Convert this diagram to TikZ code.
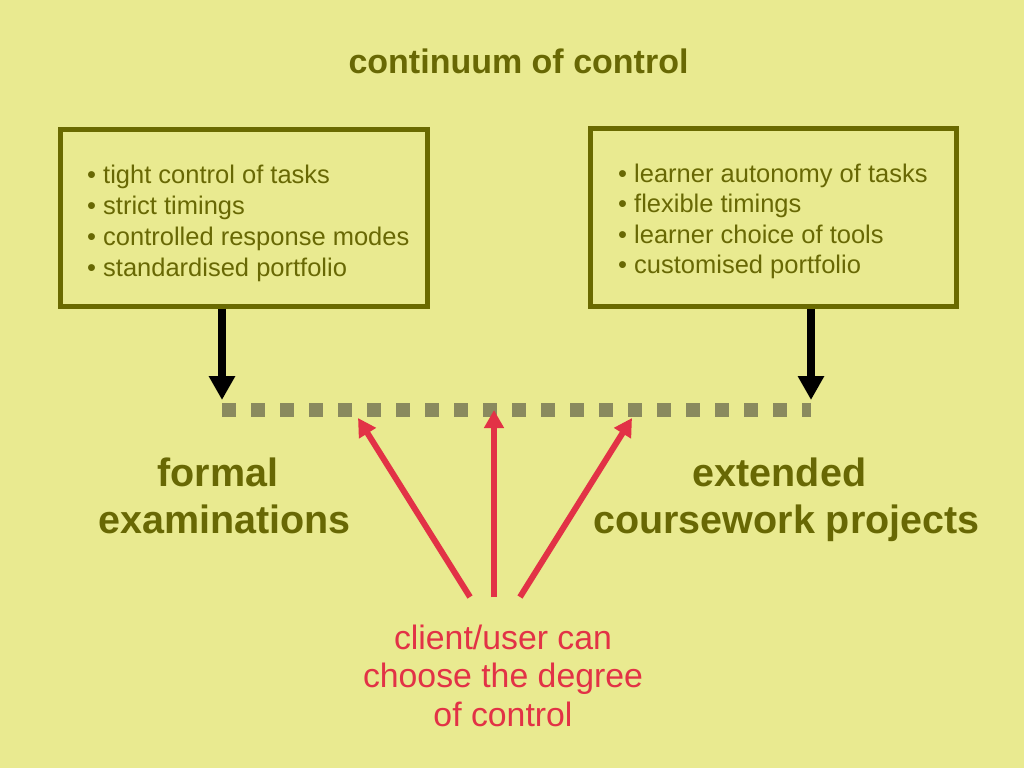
\documentclass[tikz,border=0pt]{standalone}
\usepackage{fontspec}
\setmainfont{Liberation Sans}
\usetikzlibrary{arrows.meta}
\definecolor{bg}{RGB}{233,234,144}
\definecolor{olive}{RGB}{104,104,4}
\definecolor{boxline}{RGB}{106,106,0}
\definecolor{dotcol}{RGB}{138,138,94}
\definecolor{redc}{RGB}{226,50,70}
\begin{document}
\begin{tikzpicture}[x=1pt,y=-1pt,
  title/.style={anchor=base,inner sep=0pt,text=olive,font=\bfseries\fontsize{34}{40}\selectfont},
  biglabel/.style={anchor=base,inner sep=0pt,text=olive,font=\bfseries\fontsize{39.5}{48}\selectfont},
  bullet/.style={anchor=base west,inner sep=0pt,text=olive,font=\fontsize{25.5}{31}\selectfont},
  redtext/.style={anchor=base,inner sep=0pt,text=redc,font=\fontsize{33.8}{38}\selectfont},
  listbox/.style={draw=boxline,line width=5pt,inner sep=0pt},
  blackarrow/.style={line width=8.5pt,-{Triangle[width=25pt,length=24pt]}},
  redarrow/.style={redc,line width=6pt,-{Triangle[width=19pt,length=18pt]}},
  scale line/.style={dotcol,line width=14pt,dash pattern=on 14pt off 15pt}
]
\fill[bg] (0,0) rectangle (1024,768);
\useasboundingbox (0,0) rectangle (1024,768);

\node[title] (title) at (518.5,73) {continuum of control};

% boxes
\node[listbox,minimum width=367pt,minimum height=177pt] (boxL) at (243.5,217.5) {};
\node[listbox,minimum width=366pt,minimum height=178pt] (boxR) at (773,217) {};

\node[bullet] (l1) at (87,183) {• tight control of tasks};
\node[bullet] (l2) at (87,214) {• strict timings};
\node[bullet] (l3) at (87,245) {• controlled response modes};
\node[bullet] (l4) at (87,276) {• standardised portfolio};

\node[bullet] (r1) at (618,182) {• learner autonomy of tasks};
\node[bullet] (r2) at (618,212) {• flexible timings};
\node[bullet] (r3) at (618,243) {• learner choice of tools};
\node[bullet] (r4) at (618,273) {• customised portfolio};

% scale
\coordinate (L) at (222,409.5);
\coordinate (R) at (811,409.5);
\draw[scale line] (L) -- (R);

\coordinate (tipL) at (222,400);
\coordinate (tipR) at (811,400);
\draw[blackarrow] (boxL.south -| tipL) -- (tipL);
\draw[blackarrow] (boxR.south -| tipR) -- (tipR);

% labels
\node[biglabel] (f1) at (218,486) {formal};
\node[biglabel] (f2) at (224.5,533) {examinations};
\node[biglabel] (e1) at (779.5,486) {extended};
\node[biglabel] (e2) at (786.5,533) {coursework projects};

% red arrows
\coordinate (s1) at (470,597);
\coordinate (s2) at (494,597);
\coordinate (s3) at (520,597);
\coordinate (t1) at (358,418);
\coordinate (t2) at (494,410);
\coordinate (t3) at (632,418);
\draw[redarrow] (s1) -- (t1);
\draw[redarrow] (s2) -- (t2);
\draw[redarrow] (s3) -- (t3);

\node[redtext] (c1) at (503,649) {client/user can};
\node[redtext] (c2) at (503,687.5) {choose the degree};
\node[redtext] (c3) at (503,726) {of control};
\end{tikzpicture}
\end{document}
